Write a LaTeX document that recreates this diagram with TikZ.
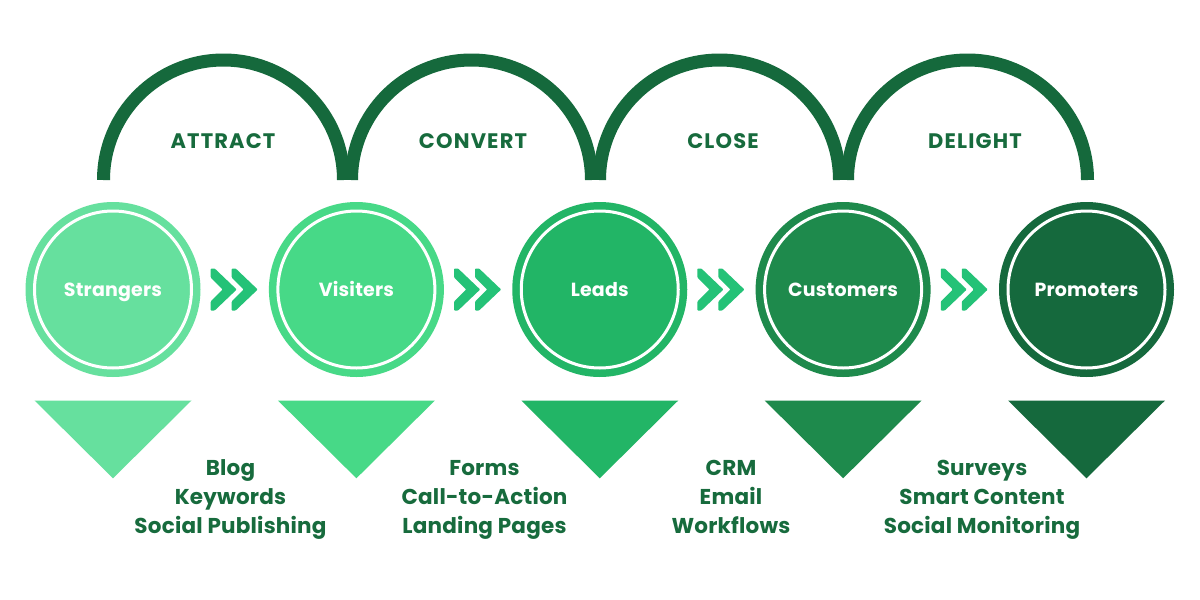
\documentclass[tikz,border=0pt]{standalone}
\usepackage{fontspec}
\setmainfont{Poppins}
\definecolor{cA}{HTML}{66E09E}
\definecolor{cB}{HTML}{47D987}
\definecolor{cC}{HTML}{22B566}
\definecolor{cD}{HTML}{1E8A4C}
\definecolor{cE}{HTML}{15693D}
\definecolor{chevc}{HTML}{24C277}
\definecolor{darkg}{HTML}{15693C}
\definecolor{textg}{HTML}{176B3D}
\tikzset{
  stage/.style={circle, minimum size=175pt, inner sep=0pt, text height=13.4pt, text depth=0pt, font=\fontsize{19}{23}\selectfont\bfseries\addfontfeature{LetterSpace=1}, text=white},
  archline/.style={draw=darkg, line width=13pt},
  archlabel/.style={anchor=base, font=\fontsize{21}{25}\selectfont\bfseries\addfontfeature{LetterSpace=5.5}, text=textg},
  toollabel/.style={anchor=base, font=\fontsize{21.5}{25}\selectfont\bfseries\addfontfeature{LetterSpace=1}, text=textg},
  chevpic/.pic={\fill[chevc, rounded corners=0.8pt] (-26,21) -- (-22,21) -- (0,0) -- (-22,-21) -- (-26,-21) -- (-26,-12) -- (-14,0) -- (-26,12) -- cycle;}
}
\begin{document}
\begin{tikzpicture}[x=1pt,y=1pt]
\useasboundingbox (0,0) rectangle (1200,-600);
\fill[white] (0,0) rectangle (1200,-600);
% arches
\foreach \c in {223.5,471.5,719.5,967.5}{
  \draw[archline] (\c-120,-180) arc[start angle=180,end angle=0,radius=120pt];
}
\node[archlabel] (attract) at (223,-148.3) {ATTRACT};
\node[archlabel] (convert) at (473,-148.3) {CONVERT};
\node[archlabel] (close) at (723,-148.3) {CLOSE};
\node[archlabel] (delight) at (975,-148.3) {DELIGHT};
% stages
\foreach \x/\col/\nm/\txt in {113/cA/strangers/Strangers, 356.4/cB/visiters/Visiters, 599.75/cC/leads/Leads, 843.1/cD/customers/Customers, 1086.5/cE/promoters/Promoters}{
  \node[stage, fill=\col] (\nm) at (\x,-289.5) {\txt};
  \draw[white, line width=3pt] (\nm.center) circle[radius=78.5pt];
  \fill[\col] (\x-78.5,-400.5) -- (\x+78.5,-400.5) -- (\x,-478.3) -- cycle;
}
% chevrons
\foreach \m in {234.7,478.1,721.4,964.8}{
  \pic at (\m+2,-289.5) {chevpic};
  \pic at (\m+23,-289.5) {chevpic};
}
% tools
\node[toollabel] (blog) at (230.5,-475) {Blog};
\node[toollabel] (keywords) at (230.5,-504.3) {Keywords};
\node[toollabel] (socpub) at (230.5,-533.3) {Social Publishing};
\node[toollabel] (forms) at (484.5,-475) {Forms};
\node[toollabel] (cta) at (484.5,-504.3) {Call-to-Action};
\node[toollabel] (landing) at (484.5,-533.3) {Landing Pages};
\node[toollabel] (crm) at (731,-475) {CRM};
\node[toollabel] (email) at (731,-504.3) {Email};
\node[toollabel] (workflows) at (731,-533.3) {Workflows};
\node[toollabel] (surveys) at (982,-475) {Surveys};
\node[toollabel] (smart) at (982,-504.3) {Smart Content};
\node[toollabel] (socmon) at (982,-533.3) {Social Monitoring};
\end{tikzpicture}
\end{document}
